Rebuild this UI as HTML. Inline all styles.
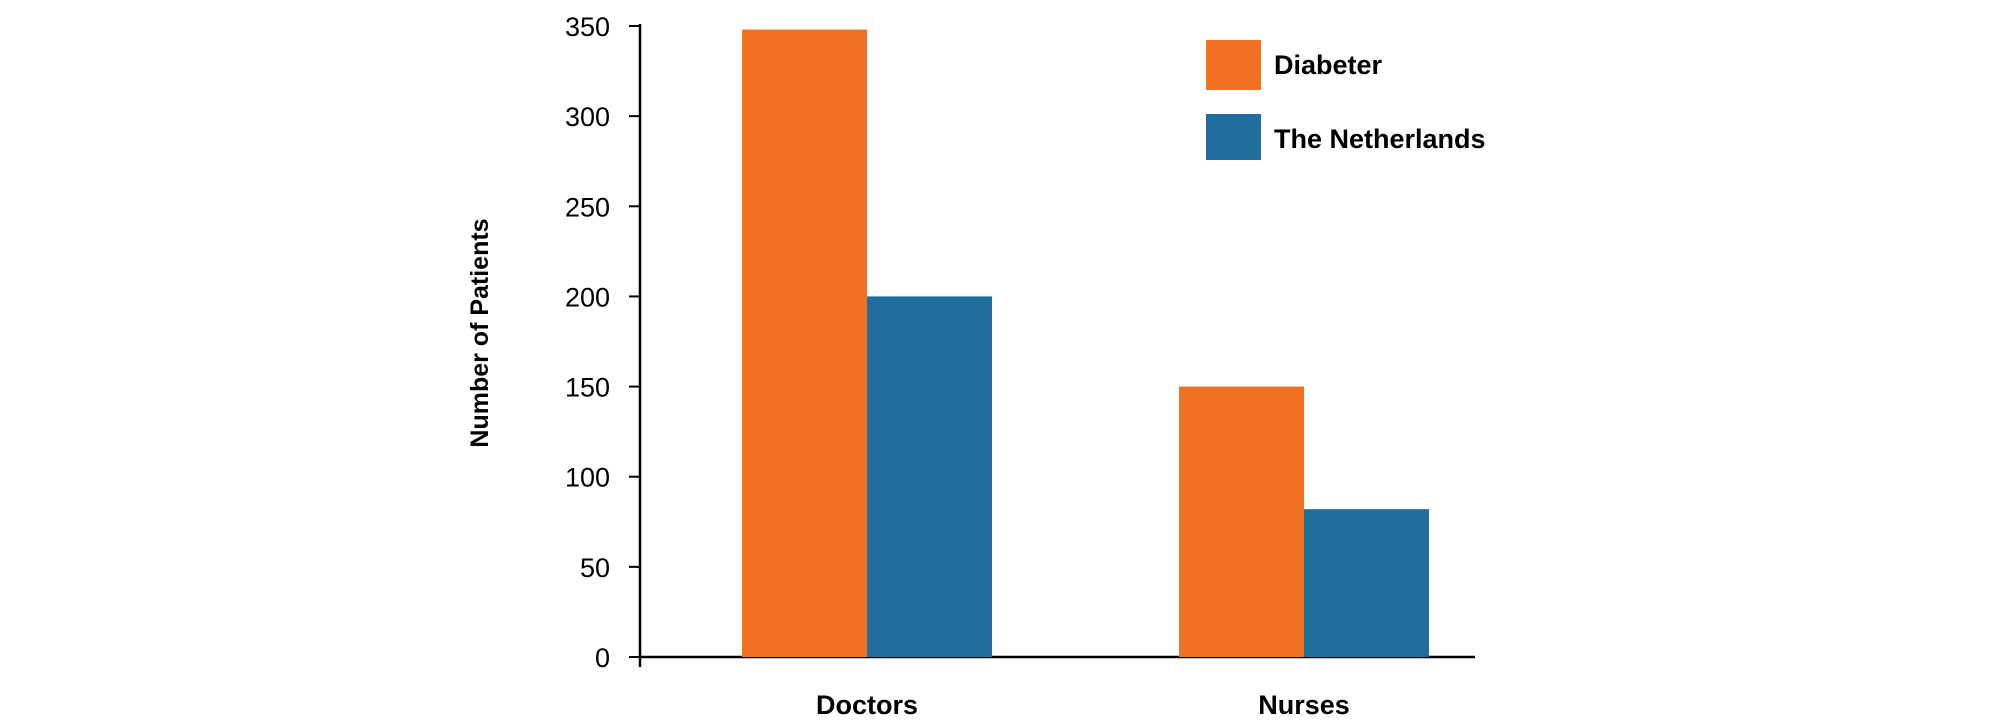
<!DOCTYPE html>
<html><head><meta charset="utf-8"><style>
html,body{margin:0;padding:0;background:#fff;}
svg{display:block;font-family:"Liberation Sans",sans-serif;}
</style></head><body>
<svg id="chart" width="2000" height="728" viewBox="0 0 2000 728">
<g id="axes"></g>
<g id="bars"></g>
<text x="488" y="333" transform="rotate(-90 488 333)" text-anchor="middle" font-size="25" font-weight="bold">Number of Patients</text>
<g>
<rect x="1206" y="40" width="55" height="50" fill="#f07122"/>
<text x="1274" y="74" font-size="27" font-weight="bold">Diabeter</text>
<rect x="1206" y="114" width="55" height="46" fill="#1f6e9e"/>
<text x="1274" y="148" font-size="27" font-weight="bold">The Netherlands</text>
</g>
</svg>
<script>
const categories = ["Doctors", "Nurses"];
const diabeter = [348, 150];
const netherlands = [200, 82];
const yTicks = [0, 50, 100, 150, 200, 250, 300, 350];

const NS = "http://www.w3.org/2000/svg";
const x0 = 640, x1 = 1475, y0 = 657, yTop = 26, yMax = 350;
function y(v){ return y0 - (v / yMax) * (y0 - yTop); }
const groupCenters = [867, 1304];
const barW = 125;
function mk(tag, attrs, parent){ const e = document.createElementNS(NS, tag); for (const k in attrs) e.setAttribute(k, attrs[k]); parent.appendChild(e); return e; }
const axes = document.getElementById("axes");
const bars = document.getElementById("bars");

categories.forEach((c, i) => {
  const cx = groupCenters[i];
  const r1 = mk("rect", {x: cx - barW, y: y(diabeter[i]), width: barW, height: y0 - y(diabeter[i]), fill: "#f07122"}, bars);
  
  
  const r2 = mk("rect", {x: cx, y: y(netherlands[i]), width: barW, height: y0 - y(netherlands[i]), fill: "#1f6e9e"}, bars);
  
  
  const t = mk("text", {x: cx, y: 714, "text-anchor": "middle", "font-size": "27", "font-weight": "bold"}, axes);
  t.textContent = c;
  
  
});

const ya = mk("line", {x1: x0, y1: yTop - 2, x2: x0, y2: y0 + 10, stroke: "#000", "stroke-width": "2.5"}, axes);


const xa = mk("line", {x1: x0, y1: y0, x2: x1, y2: y0, stroke: "#000", "stroke-width": "2.5"}, axes);



yTicks.forEach(v => {
  const tk = mk("line", {x1: x0 - 11, y1: y(v), x2: x0, y2: y(v), stroke: "#000", "stroke-width": "2"}, axes);
  
  
  const t = mk("text", {x: 610, y: y(v) + 10, "text-anchor": "end", "font-size": "27"}, axes);
  t.textContent = v;
  
  
});
</script>
</body></html>
